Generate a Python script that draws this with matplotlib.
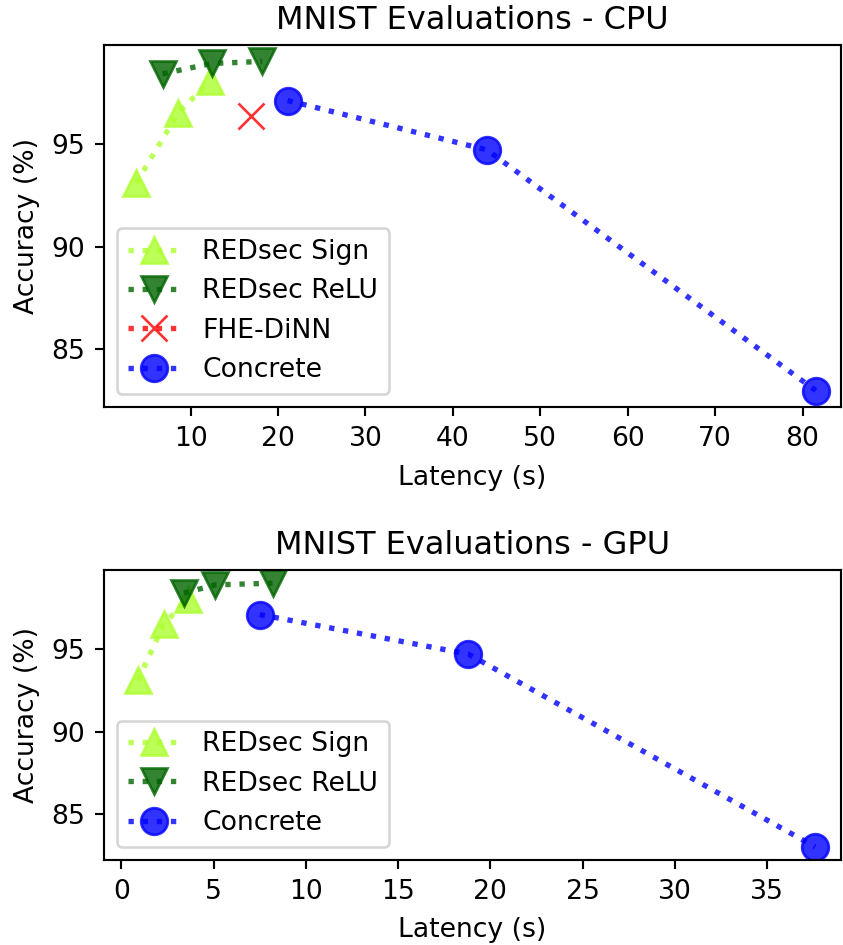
import matplotlib
matplotlib.use('Agg')
import matplotlib.pyplot as plt

# CPU results (latency in seconds, accuracy in %)
cpu_sign_lat = [3.8, 8.6, 12.2]
cpu_sign_acc = [93.1, 96.5, 98.05]
cpu_relu_lat = [6.8, 12.4, 18.2]
cpu_relu_acc = [98.4, 98.9, 99.0]
cpu_dinn_lat = [16.9]
cpu_dinn_acc = [96.35]
cpu_concrete_lat = [21.1, 43.9, 81.5]
cpu_concrete_acc = [97.1, 94.7, 83.0]
cpu_xticks = [10, 20, 30, 40, 50, 60, 70, 80]

# GPU results
gpu_sign_lat = [0.9, 2.3, 3.6]
gpu_sign_acc = [93.1, 96.5, 98.05]
gpu_relu_lat = [3.4, 5.1, 8.2]
gpu_relu_acc = [98.4, 98.9, 99.0]
gpu_concrete_lat = [7.5, 18.8, 37.6]
gpu_concrete_acc = [97.1, 94.7, 83.0]

DPI = 192
fig = plt.figure(figsize=(843 / DPI, 945 / DPI), dpi=DPI)
ax1 = fig.add_axes([0.1228, 0.5693, 0.8749, 0.3831])
ax2 = fig.add_axes([0.1228, 0.0899, 0.8749, 0.3069])

style = dict(linestyle=':', linewidth=2, markersize=10, alpha=0.8)

# CPU plot
ax1.plot(cpu_sign_lat, cpu_sign_acc, marker='^', color='greenyellow', label='REDsec Sign', **style)
ax1.plot(cpu_relu_lat, cpu_relu_acc, marker='v', color='darkgreen', label='REDsec ReLU', **style)
ax1.plot(cpu_dinn_lat, cpu_dinn_acc, marker='x', color='red', label='FHE-DiNN', **style)
ax1.plot(cpu_concrete_lat, cpu_concrete_acc, marker='o', color='blue', label='Concrete', **style)
ax1.set_title('MNIST Evaluations - CPU')
ax1.set_xlabel('Latency (s)', labelpad=5)
ax1.set_ylabel('Accuracy (%)')
ax1.set_xticks(cpu_xticks)
ax1.set_xlim(0.05, 84.4)
ax1.legend(loc='lower left')

# GPU plot
ax2.plot(gpu_sign_lat, gpu_sign_acc, marker='^', color='greenyellow', label='REDsec Sign', **style)
ax2.plot(gpu_relu_lat, gpu_relu_acc, marker='v', color='darkgreen', label='REDsec ReLU', **style)
ax2.plot(gpu_concrete_lat, gpu_concrete_acc, marker='o', color='blue', label='Concrete', **style)
ax2.set_title('MNIST Evaluations - GPU')
ax2.set_xlabel('Latency (s)', labelpad=4.5)
ax2.set_ylabel('Accuracy (%)')
ax2.set_xlim(-0.96, 39.0)
ax2.legend(loc='lower left')

plt.savefig('out.png', dpi=DPI)
